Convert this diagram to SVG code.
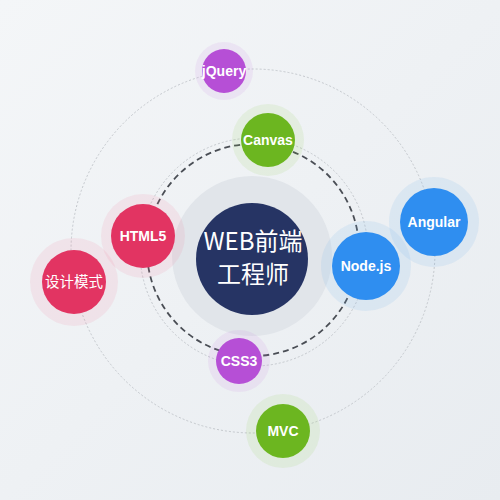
<svg xmlns="http://www.w3.org/2000/svg" width="500" height="500" viewBox="0 0 500 500">
<defs>
<linearGradient id="bg" x1="0" y1="0" x2="1" y2="1">
<stop offset="0" stop-color="#f4f6f8"/>
<stop offset="1" stop-color="#e8ecf0"/>
</linearGradient>
<style>
.lbl{font-family:"Liberation Sans","Noto Sans CJK SC",sans-serif;font-weight:bold;font-size:14px;fill:#fff;text-anchor:middle;}
.cn{font-family:"Liberation Sans","Noto Sans CJK SC",sans-serif;font-size:14.5px;fill:#fff;text-anchor:middle;}
.ctr{font-family:"Noto Sans CJK SC","Liberation Sans",sans-serif;font-size:24px;fill:#fff;text-anchor:middle;}
.purple{fill:#b64fd6}.green{fill:#6cb620}.red{fill:#e23462}.blue{fill:#2f8ef0}
.hp{fill:#c77be0;opacity:.12}.hg{fill:#8fcc4a;opacity:.12}.hr{fill:#ef7d9a;opacity:.13}.hb{fill:#7ab4ec;opacity:.15}
</style>
</defs>
<rect width="500" height="500" fill="url(#bg)"/>
<g id="connectors" fill="none">
<circle cx="253" cy="251" r="182" stroke="#c4c8cd" stroke-width="1" stroke-dasharray="2 2"/>
<circle cx="254" cy="252" r="114" stroke="#c4c8cd" stroke-width="1" stroke-dasharray="2 2"/>
<circle cx="253" cy="250" r="106" stroke="#4a4e55" stroke-width="1.8" stroke-dasharray="6 4"/>
</g>
<g id="center">
<circle cx="252" cy="256" r="80" fill="#e1e5ea"/>
<circle cx="252" cy="259" r="56" fill="#263464"/>
<text class="ctr" x="253" y="250">WEB前端</text>
<text class="ctr" x="253" y="283">工程师</text>
</g>
<g id="jquery">
<circle cx="224" cy="71" r="29" class="hp"/>
<circle cx="224" cy="71" r="22" class="purple"/>
<text class="lbl" x="224" y="76">jQuery</text>
</g>
<g id="canvas">
<circle cx="268" cy="140" r="36" class="hg"/>
<circle cx="268" cy="140" r="27" class="green"/>
<text class="lbl" x="268" y="145">Canvas</text>
</g>
<g id="html5">
<circle cx="143" cy="236" r="42" class="hr"/>
<circle cx="143" cy="236" r="32" class="red"/>
<text class="lbl" x="143" y="241">HTML5</text>
</g>
<g id="design">
<circle cx="74" cy="282" r="44" class="hr"/>
<circle cx="74" cy="282" r="32" class="red"/>
<text class="cn" x="74" y="287">设计模式</text>
</g>
<g id="nodejs">
<circle cx="366" cy="266" r="45" class="hb"/>
<circle cx="366" cy="266" r="34" class="blue"/>
<text class="lbl" x="366" y="271">Node.js</text>
</g>
<g id="angular">
<circle cx="434" cy="222" r="45" class="hb"/>
<circle cx="434" cy="222" r="34" class="blue"/>
<text class="lbl" x="434" y="227">Angular</text>
</g>
<g id="css3">
<circle cx="239" cy="361" r="31" class="hp"/>
<circle cx="239" cy="361" r="23" class="purple"/>
<text class="lbl" x="239" y="366">CSS3</text>
</g>
<g id="mvc">
<circle cx="283" cy="431" r="37" class="hg"/>
<circle cx="283" cy="431" r="27" class="green"/>
<text class="lbl" x="283" y="436">MVC</text>
</g>
</svg>
